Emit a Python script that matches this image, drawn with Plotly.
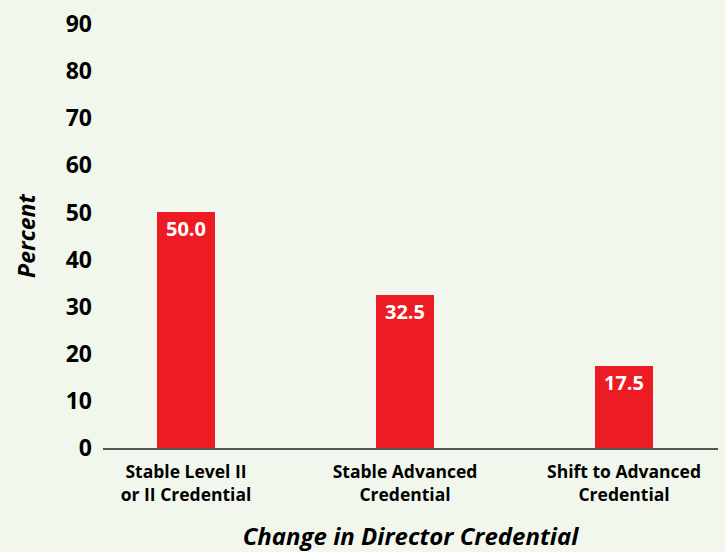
import plotly.graph_objects as go

categories = ["Stable Level II<br>or II Credential", "Stable Advanced<br>Credential", "Shift to Advanced<br>Credential"]
values = [50.0, 32.5, 17.5]
y_ticks = [0, 10, 20, 30, 40, 50, 60, 70, 80, 90]

BG = "#F2F7EE"
RED = "#ED1C24"
FONT = "Open Sans"

fig = go.Figure(go.Bar(
    x=categories, y=values, width=0.265,
    marker=dict(color=RED, line=dict(width=0)),
    texttemplate="<b>%{y:.1f}</b>", textposition="inside", insidetextanchor="end",
    textfont=dict(color="white", size=20, family=FONT),
    textangle=0, cliponaxis=False,
))

fig.update_layout(
    width=725, height=552,
    margin=dict(l=103, r=7, t=24, b=104),
    paper_bgcolor=BG, plot_bgcolor=BG,
    font=dict(family=FONT, color="black"),
    showlegend=False,
    bargap=0,
)
fig.update_xaxes(
    type="category", range=[-0.379, 2.429], automargin=False,
    showline=True, linecolor="#555555", linewidth=1.5,
    showgrid=False, ticks="", ticklabelstandoff=7,
    tickfont=dict(size=17.5, family=FONT, weight="bold"),
    title=dict(text="<b><i>Change in Director Credential</i></b>", font=dict(size=24, family=FONT), standoff=25),
)
fig.update_yaxes(
    range=[0, 90], tickvals=y_ticks, showgrid=False, zeroline=False, showline=False, automargin=False,
    tickfont=dict(size=23, family=FONT, weight="bold"), ticks="", ticklabelstandoff=10,
    title=dict(text="<b><i>Percent</i></b>", font=dict(size=23, family=FONT), standoff=23),
)

fig.write_html("out.html", config={"displayModeBar": False},
               post_script="document.body.style.margin='0';")
